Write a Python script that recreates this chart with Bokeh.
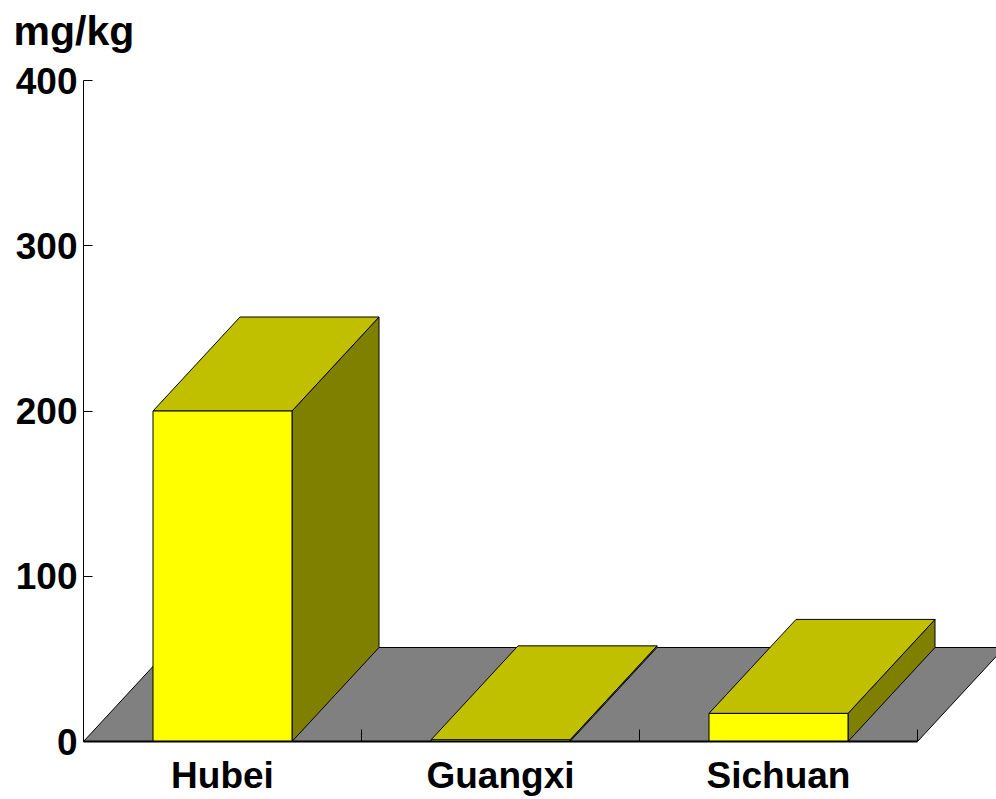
from bokeh.plotting import figure
from bokeh.models import Range1d, FixedTicker
from bokeh.embed import file_html
from bokeh.resources import INLINE

# ---- data ----
categories = ["Hubei", "Guangxi", "Sichuan"]
values = [200, 1, 17]
y_ticks = [0, 100, 200, 300, 400]
unit_label = "mg/kg"

# ---- layout / style ----
W, H = 996, 799
LEFT, TOP, BOTTOM, RIGHT = 83, 62, 58, 0
AXIS_TOP_PX = 80               # pixel row of the 400 tick
frame_w = W - LEFT - RIGHT
frame_h = H - TOP - BOTTOM
cat_px = 278.0
x_end = frame_w / cat_px
y_max = y_ticks[-1]
px_per_y = (H - BOTTOM - AXIS_TOP_PX) / y_max
y_end = frame_h / px_per_y
dx = 87 / cat_px          # depth offset, x data units
dy = 94 / px_per_y        # depth offset, y data units
half = 0.25
tick_len = 12 / px_per_y

FRONT, TOPC, SIDE, FLOOR = "#FFFF00", "#C0C000", "#808000", "#808080"
FONT = "'Liberation Sans', Arial, sans-serif"

p = figure(width=W, height=H, output_backend="svg", toolbar_location=None,
           x_range=Range1d(0, x_end), y_range=Range1d(0, y_end),
           min_border_left=LEFT, min_border_top=TOP, min_border_bottom=BOTTOM,
           min_border_right=RIGHT, outline_line_color=None)
p.grid.visible = False

n = len(categories)
# floor
p.patch([0, n, n + dx, dx], [0, 0, dy, dy], fill_color=FLOOR, line_color="black", line_width=1)

# bars
sx, sy, tx, ty, fx, fy = [], [], [], [], [], []
for i, v in enumerate(values):
    c = i + 0.5
    l, r = c - half, c + half
    sx.append([r, r + dx, r + dx, r]); sy.append([0, dy, v + dy, v])
    tx.append([l, r, r + dx, l + dx]); ty.append([v, v, v + dy, v + dy])
    fx.append([l, r, r, l]); fy.append([0, 0, v, v])
p.patches(sx, sy, fill_color=SIDE, line_color="black", line_width=1)
p.patches(tx, ty, fill_color=TOPC, line_color="black", line_width=1)
p.patches(fx, fy, fill_color=FRONT, line_color="black", line_width=1)

# category boundary ticks on x axis (inward)
bx = list(range(1, n + 1))
p.segment(x0=bx, y0=[0] * n, x1=bx, y1=[tick_len] * n, line_color="black", line_width=1)

# x axis
xa = p.xaxis[0]
xa.ticker = FixedTicker(ticks=[i + 0.5 for i in range(n)])
xa.major_label_overrides = {i + 0.5: c for i, c in enumerate(categories)}
xa.bounds = (0, n)
xa.major_tick_in = 0
xa.major_tick_out = 0
xa.minor_tick_in = 0
xa.minor_tick_out = 0
xa.axis_line_width = 2
xa.major_label_standoff = 13
xa.major_label_text_font = FONT
xa.major_label_text_font_style = "bold"
xa.major_label_text_font_size = "37px"
xa.major_label_text_color = "black"

# y axis
ya = p.yaxis[0]
ya.ticker = FixedTicker(ticks=y_ticks)
ya.bounds = (0, y_max)
ya.major_tick_in = 9
ya.major_tick_out = 0
ya.minor_tick_in = 0
ya.minor_tick_out = 0
ya.axis_line_width = 1
ya.major_label_standoff = 6
ya.major_label_text_font = FONT
ya.major_label_text_font_style = "bold"
ya.major_label_text_font_size = "37px"
ya.major_label_text_color = "black"

p.title.text = unit_label
p.title.text_font = FONT
p.title.text_font_size = "41px"
p.title.text_font_style = "bold"
p.title.text_color = "black"
p.title.align = "left"
p.title.vertical_align = "top"
p.title.offset = -70
p.title.standoff = 14

open("out.html", "w").write(file_html(p, INLINE))
